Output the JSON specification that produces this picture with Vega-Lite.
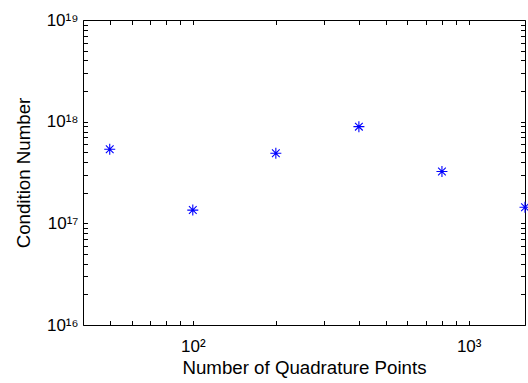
{
  "$schema": "https://vega.github.io/schema/vega-lite/v6.json",
  "width": 442,
  "height": 305,
  "autosize": {"type": "none"},
  "padding": {"left": 83, "top": 20, "right": 3, "bottom": 58},
  "background": "white",
  "config": {
    "view": {"stroke": null},
    "axis": {
      "domainColor": "black",
      "domainWidth": 1,
      "tickColor": "black",
      "tickWidth": 1,
      "tickSize": -4.5,
      "ticks": true,
      "grid": false,
      "labelFont": "Liberation Sans",
      "labelFontSize": 17,
      "labelColor": "black",
      "titleFont": "Liberation Sans",
      "titleFontSize": 18.7,
      "titleFontWeight": "normal",
      "titleColor": "black",
      "labelFlush": false,
      "labelOverlap": false
    }
  },
  "data": {
    "values": [
      {"points": 50, "cond": 5.35e17},
      {"points": 100, "cond": 1.35e17},
      {"points": 200, "cond": 4.89e17},
      {"points": 400, "cond": 8.93e17},
      {"points": 800, "cond": 3.23e17},
      {"points": 1600, "cond": 1.44e17}
    ]
  },
  "layer": [
    {
      "mark": {
        "type": "point",
        "shape": "M-1,0L1,0M0,-1L0,1M-0.7,-0.7L0.7,0.7M-0.7,0.7L0.7,-0.7",
        "filled": false,
        "stroke": "#0000ff",
        "strokeWidth": 1.1,
        "size": 121,
        "opacity": 1
      },
      "encoding": {
        "x": {
          "field": "points",
          "type": "quantitative",
          "scale": {"type": "log", "domain": [40, 1600], "nice": false},
          "axis": {
            "orient": "bottom",
            "title": "Number of Quadrature Points",
            "values": [50, 60, 70, 80, 90, 100, 200, 300, 400, 500, 600, 700, 800, 900, 1000],
            "labelExpr": "datum.value == 100 ? '10²' : datum.value == 1000 ? '10³' : ''",
            "labelPadding": 18,
            "titlePadding": 4
          }
        },
        "y": {
          "field": "cond",
          "type": "quantitative",
          "scale": {"type": "log", "domain": [1e16, 1e19], "nice": false},
          "axis": {
            "orient": "left",
            "title": "Condition Number",
            "values": [1e16, 2e16, 3e16, 4e16, 5e16, 6e16, 7e16, 8e16, 9e16, 1e17, 2e17, 3e17, 4e17, 5e17, 6e17, 7e17, 8e17, 9e17, 1e18, 2e18, 3e18, 4e18, 5e18, 6e18, 7e18, 8e18, 9e18, 1e19],
            "labelExpr": "datum.value == 1e16 ? '10¹⁶' : datum.value == 1e17 ? '10¹⁷' : datum.value == 1e18 ? '10¹⁸' : datum.value == 1e19 ? '10¹⁹' : ''",
            "labelBaseline": "middle",
            "labelPadding": 9.5,
            "titlePadding": 13
          }
        }
      }
    },
    {
      "mark": {"type": "point", "opacity": 0},
      "encoding": {
        "x": {
          "field": "points",
          "type": "quantitative",
          "axis": {
            "orient": "top",
            "title": null,
            "labels": false,
            "values": [50, 60, 70, 80, 90, 100, 200, 300, 400, 500, 600, 700, 800, 900, 1000]
          }
        },
        "y": {
          "field": "cond",
          "type": "quantitative",
          "axis": {
            "orient": "right",
            "title": null,
            "labels": false,
            "values": [1e16, 2e16, 3e16, 4e16, 5e16, 6e16, 7e16, 8e16, 9e16, 1e17, 2e17, 3e17, 4e17, 5e17, 6e17, 7e17, 8e17, 9e17, 1e18, 2e18, 3e18, 4e18, 5e18, 6e18, 7e18, 8e18, 9e18, 1e19]
          }
        }
      }
    }
  ],
  "resolve": {"axis": {"x": "independent", "y": "independent"}}
}
